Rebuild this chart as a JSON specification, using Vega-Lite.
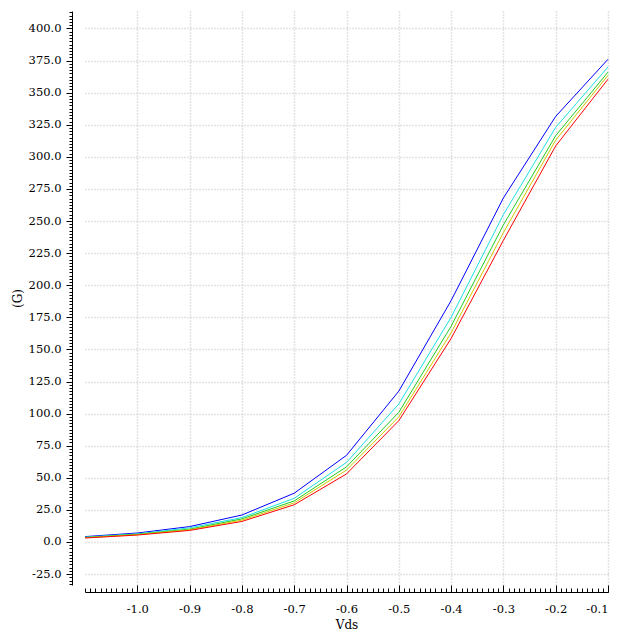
{
  "$schema": "https://vega.github.io/schema/vega-lite/v6.json",
  "width": 523,
  "height": 574,
  "autosize": {"type": "none"},
  "padding": {"left": 85, "top": 11, "right": 32, "bottom": 55},
  "background": "white",
  "config": {
    "view": {"stroke": null},
    "axis": {
      "labelFont": "DejaVu Serif",
      "titleFont": "DejaVu Serif",
      "labelFontSize": 11.5,
      "titleFontSize": 12,
      "titleFontWeight": "normal",
      "labelColor": "black",
      "titleColor": "black",
      "domainColor": "black",
      "tickColor": "black",
      "domainWidth": 1,
      "tickWidth": 1
    }
  },
  "data": {
    "values": [
      {"x": -1.1, "s": "a", "y": 4.2}, {"x": -1.0, "s": "a", "y": 7}, {"x": -0.9, "s": "a", "y": 12}, {"x": -0.8, "s": "a", "y": 21}, {"x": -0.7, "s": "a", "y": 38}, {"x": -0.6, "s": "a", "y": 67.5}, {"x": -0.5, "s": "a", "y": 117.5}, {"x": -0.4, "s": "a", "y": 188}, {"x": -0.3, "s": "a", "y": 268}, {"x": -0.2, "s": "a", "y": 331.5}, {"x": -0.1, "s": "a", "y": 376},
      {"x": -1.1, "s": "b", "y": 3.8}, {"x": -1.0, "s": "b", "y": 6.3}, {"x": -0.9, "s": "b", "y": 11}, {"x": -0.8, "s": "b", "y": 19}, {"x": -0.7, "s": "b", "y": 34}, {"x": -0.6, "s": "b", "y": 62}, {"x": -0.5, "s": "b", "y": 107.5}, {"x": -0.4, "s": "b", "y": 175}, {"x": -0.3, "s": "b", "y": 255}, {"x": -0.2, "s": "b", "y": 323}, {"x": -0.1, "s": "b", "y": 370},
      {"x": -1.1, "s": "c", "y": 3.5}, {"x": -1.0, "s": "c", "y": 6}, {"x": -0.9, "s": "c", "y": 10}, {"x": -0.8, "s": "c", "y": 18}, {"x": -0.7, "s": "c", "y": 32}, {"x": -0.6, "s": "c", "y": 58.5}, {"x": -0.5, "s": "c", "y": 101}, {"x": -0.4, "s": "c", "y": 168}, {"x": -0.3, "s": "c", "y": 247}, {"x": -0.2, "s": "c", "y": 316.5}, {"x": -0.1, "s": "c", "y": 366},
      {"x": -1.1, "s": "d", "y": 3.3}, {"x": -1.0, "s": "d", "y": 5.7}, {"x": -0.9, "s": "d", "y": 9.5}, {"x": -0.8, "s": "d", "y": 17}, {"x": -0.7, "s": "d", "y": 30.5}, {"x": -0.6, "s": "d", "y": 56}, {"x": -0.5, "s": "d", "y": 97.5}, {"x": -0.4, "s": "d", "y": 163}, {"x": -0.3, "s": "d", "y": 241}, {"x": -0.2, "s": "d", "y": 313}, {"x": -0.1, "s": "d", "y": 363.5},
      {"x": -1.1, "s": "e", "y": 3.1}, {"x": -1.0, "s": "e", "y": 5.4}, {"x": -0.9, "s": "e", "y": 9}, {"x": -0.8, "s": "e", "y": 16}, {"x": -0.7, "s": "e", "y": 29}, {"x": -0.6, "s": "e", "y": 53}, {"x": -0.5, "s": "e", "y": 94.5}, {"x": -0.4, "s": "e", "y": 158.5}, {"x": -0.3, "s": "e", "y": 235}, {"x": -0.2, "s": "e", "y": 308.5}, {"x": -0.1, "s": "e", "y": 360.5}
    ]
  },
  "layer": [
    {
      "mark": {"type": "line", "strokeWidth": 1},
      "encoding": {
        "x": {"field": "x", "type": "quantitative", "scale": {"domain": [-1.1, -0.1], "nice": false, "zero": false},
          "axis": {"orient": "bottom", "grid": true, "gridDash": [1, 2], "gridColor": "#c8c8c8", "gridWidth": 1.5, "labels": false, "ticks": false, "domain": false, "title": null,
            "values": [-1.0, -0.9, -0.8, -0.7, -0.6, -0.5, -0.4, -0.3, -0.2, -0.1]}},
        "y": {"field": "y", "type": "quantitative", "scale": {"domain": [-33.5, 413.6], "nice": false, "zero": false},
          "axis": {"orient": "left", "grid": true, "gridDash": [1, 2], "gridColor": "#c8c8c8", "gridWidth": 1.5, "labels": false, "ticks": false, "domain": false, "title": null,
            "values": [-25, 0, 25, 50, 75, 100, 125, 150, 175, 200, 225, 250, 275, 300, 325, 350, 375, 400]}},
        "color": {"field": "s", "type": "nominal", "legend": null,
          "scale": {"domain": ["a", "b", "c", "d", "e"], "range": ["#0000ff", "#1ee0e0", "#22cc22", "#d2c800", "#ff0000"]}}
      }
    },
    {
      "mark": {"type": "line", "opacity": 0},
      "encoding": {
        "x": {"field": "x", "type": "quantitative",
          "axis": {"orient": "bottom", "grid": false, "offset": 7, "tickSize": -7, "labelPadding": 18, "title": "Vds", "titlePadding": 5,
            "values": [-1.0, -0.9, -0.8, -0.7, -0.6, -0.5, -0.4, -0.3, -0.2, -0.1],
            "labelExpr": "replace(format(datum.value, '.1f'), '−', '-')"}},
        "y": {"field": "y", "type": "quantitative",
          "axis": {"orient": "left", "grid": false, "offset": 13, "tickSize": 6, "labelPadding": 5, "title": "(G)", "titlePadding": 4,
            "values": [-25, 0, 25, 50, 75, 100, 125, 150, 175, 200, 225, 250, 275, 300, 325, 350, 375, 400],
            "labelExpr": "replace(format(datum.value, '.1f'), '−', '-')"}}
      }
    },
    {
      "mark": {"type": "line", "opacity": 0},
      "encoding": {
        "x": {"field": "x", "type": "quantitative",
          "axis": {"orient": "bottom", "grid": false, "offset": 7, "tickSize": -4, "labels": false, "domain": false, "title": null, "tickCount": 100}},
        "y": {"field": "y", "type": "quantitative",
          "axis": {"orient": "left", "grid": false, "offset": 13, "tickSize": 3, "labels": false, "domain": false, "title": null,
            "values": [-32.5, -30, -27.5, -25, -22.5, -20, -17.5, -15, -12.5, -10, -7.5, -5, -2.5,
              0, 2.5, 5, 7.5, 10, 12.5, 15, 17.5, 20, 22.5,
              25, 27.5, 30, 32.5, 35, 37.5, 40, 42.5, 45, 47.5,
              50, 52.5, 55, 57.5, 60, 62.5, 65, 67.5, 70, 72.5,
              75, 77.5, 80, 82.5, 85, 87.5, 90, 92.5, 95, 97.5,
              100, 102.5, 105, 107.5, 110, 112.5, 115, 117.5, 120, 122.5,
              125, 127.5, 130, 132.5, 135, 137.5, 140, 142.5, 145, 147.5,
              150, 152.5, 155, 157.5, 160, 162.5, 165, 167.5, 170, 172.5,
              175, 177.5, 180, 182.5, 185, 187.5, 190, 192.5, 195, 197.5,
              200, 202.5, 205, 207.5, 210, 212.5, 215, 217.5, 220, 222.5,
              225, 227.5, 230, 232.5, 235, 237.5, 240, 242.5, 245, 247.5,
              250, 252.5, 255, 257.5, 260, 262.5, 265, 267.5, 270, 272.5,
              275, 277.5, 280, 282.5, 285, 287.5, 290, 292.5, 295, 297.5,
              300, 302.5, 305, 307.5, 310, 312.5, 315, 317.5, 320, 322.5,
              325, 327.5, 330, 332.5, 335, 337.5, 340, 342.5, 345, 347.5,
              350, 352.5, 355, 357.5, 360, 362.5, 365, 367.5, 370, 372.5,
              375, 377.5, 380, 382.5, 385, 387.5, 390, 392.5, 395, 397.5,
              400, 402.5, 405, 407.5, 410, 412.5]}}
      }
    }
  ],
  "resolve": {"axis": {"x": "independent", "y": "independent"}}
}
